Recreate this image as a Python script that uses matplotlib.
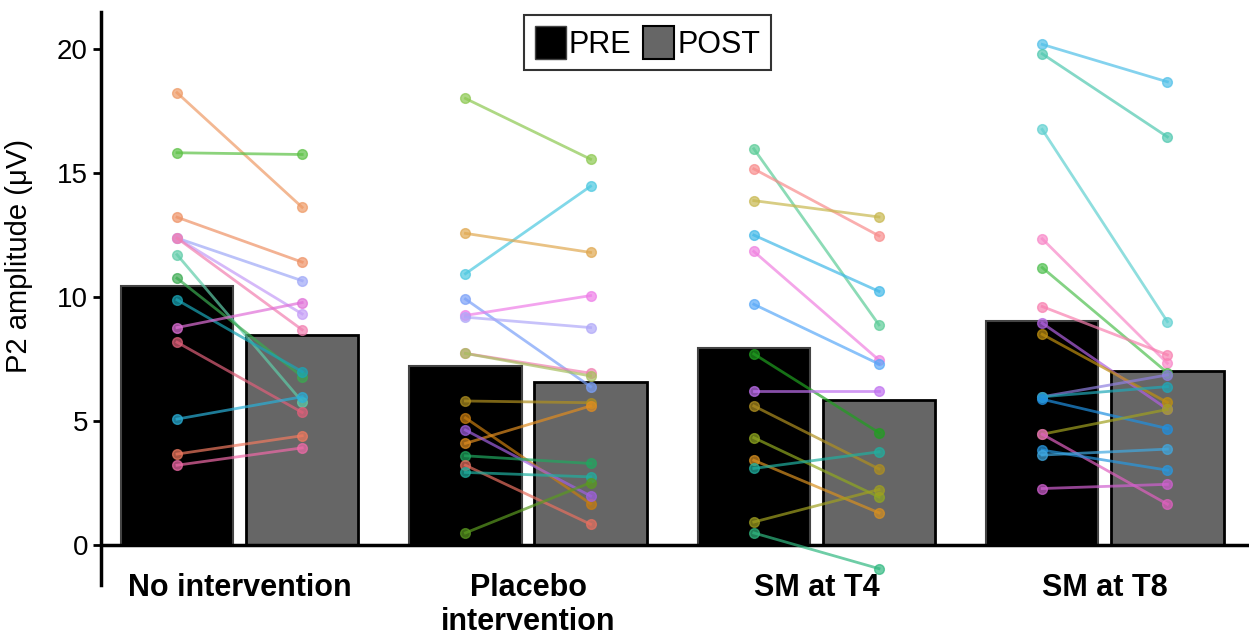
import numpy as np
import matplotlib.pyplot as plt
from matplotlib.patches import Patch

plt.rcParams['font.family'] = ['Liberation Sans', 'DejaVu Sans']

# Data
GROUPS = ["No intervention", "Placebo\nintervention", "SM at T4", "SM at T8"]
PRE_MEANS = [10.46, 7.23, 7.96, 9.05]
POST_MEANS = [8.48, 6.59, 5.86, 7.03]

no_int_pre = [18.25, 15.83, 13.23, 12.39, 12.39, 12.39, 11.72, 10.77, 9.90, 8.78, 8.19, 5.09, 3.68, 3.23]
no_int_post = [13.63, 15.76, 11.42, 10.67, 9.33, 8.69, 5.79, 6.80, 7.00, 9.79, 5.36, 5.99, 4.42, 3.93]

placebo_pre = [18.02, 10.95, 12.58, 9.93, 9.27, 9.20, 7.74, 7.74, 5.82, 5.14, 4.11, 4.65, 3.61, 3.23, 2.94, 0.50]
placebo_post = [15.57, 14.48, 11.81, 6.40, 10.07, 8.78, 6.94, 6.83, 5.75, 1.68, 5.62, 1.99, 3.30, 0.85, 2.76, 2.53]

sm_t4_pre = [15.99, 15.18, 13.90, 12.51, 11.85, 9.72, 7.72, 6.22, 5.62, 4.34, 3.43, 3.10, 0.94, 0.50]
sm_t4_post = [8.89, 12.48, 13.24, 10.24, 7.47, 7.31, 4.54, 6.22, 3.08, 1.95, 1.31, 3.77, 2.25, -0.94]

sm_t8_pre = [20.20, 19.82, 16.77, 12.36, 11.20, 9.63, 8.96, 8.51, 5.99, 5.99, 5.89, 4.48, 4.48, 3.84, 3.64, 2.29]
sm_t8_post = [18.69, 16.47, 9.02, 7.34, 6.96, 7.68, 5.49, 5.76, 6.87, 6.40, 4.71, 5.48, 1.66, 3.03, 3.88, 2.46]

PRE_SUBJECTS = [no_int_pre, placebo_pre, sm_t4_pre, sm_t8_pre]
POST_SUBJECTS = [no_int_post, placebo_post, sm_t4_post, sm_t8_post]

# Subject colours per group
COLORS = [
    ['#ee9a65', '#5cc145', '#ee9266', '#9fa8f7', '#c49cf7', '#f27fb0', '#5fcca8',
     '#3aaa50', '#1aa6b7', '#e070d8', '#e0607a', '#2ab0d8', '#f07a60', '#f06aa8'],
    ['#8cc850', '#4cc8e0', '#e0a850', '#7aa0f8', '#ee7ee8', '#b0a8f8', '#f080b0',
     '#a8c060', '#b09020', '#c87d10', '#e08c20', '#a060e0', '#20a860', '#e87060',
     '#20b0a0', '#5a9a20'],
    ['#5ccc98', '#f88c8c', '#c8b850', '#40b8e8', '#f080e0', '#58a8f8', '#20a020',
     '#c070f0', '#b09020', '#90a820', '#d89020', '#20b0a0', '#a0a020', '#30b880'],
    ['#50c0e8', '#50c8b0', '#60d0d0', '#f888c8', '#50c050', '#f880b0', '#b060e0',
     '#c09010', '#9080e0', '#20a8b8', '#2090e0', '#a0a020', '#e060c0', '#2898e0',
     '#40a8e0', '#d060d0'],
]

BAR_WIDTH = 0.39
OFFSET = 0.217

fig = plt.figure(figsize=(12.49, 6.39), dpi=100)
ax = fig.add_axes([0.081, 0.0845, 0.919, 0.8965])

x = np.arange(len(GROUPS))
ax.bar(x - OFFSET, PRE_MEANS, BAR_WIDTH, color='black', edgecolor='#444444',
       linewidth=1.5, zorder=1)
ax.bar(x + OFFSET, POST_MEANS, BAR_WIDTH, color='#666666', edgecolor='black',
       linewidth=2, zorder=1)

for i in range(len(GROUPS)):
    for pre, post, c in zip(PRE_SUBJECTS[i], POST_SUBJECTS[i], COLORS[i]):
        ax.plot([x[i] - OFFSET, x[i] + OFFSET], [pre, post], color=c, lw=2,
                alpha=0.7, marker='o', markersize=7, zorder=3)

ax.axhline(0, color='black', lw=2.5, zorder=2)
ax.set_xlim(-0.48, 3.5)
ax.set_ylim(-1.6, 21.5)
ax.set_yticks([0, 5, 10, 15, 20])
ax.set_xticks(x)
ax.set_xticklabels(GROUPS, fontsize=22, fontweight='bold', va='top')
ax.tick_params(axis='x', length=0, pad=-9)
ax.tick_params(axis='y', labelsize=20, width=2, length=6)
ax.set_ylabel("P2 amplitude (μV)", fontsize=21)
ax.yaxis.set_label_coords(-0.059, 0.574)
for s in ['top', 'right', 'bottom']:
    ax.spines[s].set_visible(False)
ax.spines['left'].set_linewidth(2.5)

handles = [Patch(facecolor='black', edgecolor='#444444', label='PRE'),
           Patch(facecolor='#666666', edgecolor='black', lw=1.5, label='POST')]
leg = ax.legend(handles=handles, loc='upper center', bbox_to_anchor=(0.476, 1.0),
                ncol=2, fontsize=22, frameon=True, fancybox=False,
                handlelength=1.0, handleheight=1.3, handletextpad=0.1,
                columnspacing=0.4, borderpad=0.35, borderaxespad=0.1)
leg.get_frame().set_edgecolor('black')
leg.get_frame().set_linewidth(1.5)

plt.savefig("out.png", dpi=100)
